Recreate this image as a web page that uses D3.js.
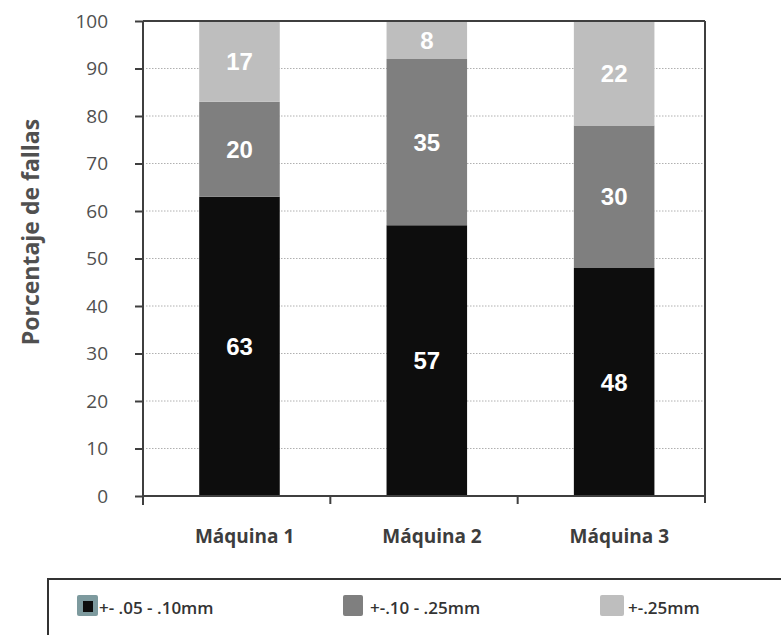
<!DOCTYPE html>
<html>
<head>
<meta charset="utf-8">
<script src="https://cdn.jsdelivr.net/npm/d3@7"></script>
<style>
  html, body { margin: 0; padding: 0; background: #ffffff; }
  svg { display: block; }
</style>
</head>
<body>
<svg id="chart" width="781" height="635"></svg>
<script>
// Machines on the x axis
const machines = ["Máquina 1", "Máquina 2", "Máquina 3"];
// Failure share (%) per tolerance band, one value per machine
const tolSmall = [63, 57, 48];   // +- .05 - .10mm
const tolMedium = [20, 35, 30];  // +-.10 - .25mm
const tolLarge = [17, 8, 22];    // +-.25mm
const seriesNames = ["+- .05 - .10mm", "+-.10 - .25mm", "+-.25mm"];
const seriesColors = ["#0d0d0d", "#7f7f7f", "#bebebe"];
const yTicks = [0, 10, 20, 30, 40, 50, 60, 70, 80, 90, 100];
const yTitle = "Porcentaje de fallas";

const svg = d3.select("#chart");
const plotLeft = 143, plotRight = 705, plotTop = 21, plotBottom = 496;
const frameColor = "#3f3f3f";
const axisFont = "'Open Sans', 'DejaVu Sans', sans-serif";

const x = d3.scaleBand().domain(machines).range([plotLeft, plotRight]).padding(0);
const y = d3.scaleLinear().domain([0, 100]).range([plotBottom, plotTop]);
const barFrac = 0.43, barOffset = 0.30;

// Dotted grid lines
svg.append("g")
  .selectAll("line")
  .data(yTicks.filter(t => t > 0 && t < 100))
  .join("line")
  .attr("x1", plotLeft + 3).attr("x2", plotRight - 2)
  .attr("y1", d => y(d)).attr("y2", d => y(d))
  .attr("stroke", "#b0b0b0")
  .attr("stroke-width", 1)
  .attr("stroke-dasharray", "1.5,1.5");

// Stacked data
const rows = machines.map((m, i) => ({ machine: m, s0: tolSmall[i], s1: tolMedium[i], s2: tolLarge[i] }));
const stacked = d3.stack().keys(["s0", "s1", "s2"])(rows);

const layers = svg.append("g")
  .selectAll("g")
  .data(stacked)
  .join("g")
  .attr("fill", (d, i) => seriesColors[i]);

layers.selectAll("rect")
  .data(d => d)
  .join("rect")
  .attr("x", d => x(d.data.machine) + x.bandwidth() * barOffset)
  .attr("width", x.bandwidth() * barFrac)
  .attr("y", d => y(d[1]))
  .attr("height", d => y(d[0]) - y(d[1]));

// Value labels inside segments
layers.selectAll("text")
  .data(d => d.map(p => ({ p, key: d.key })))
  .join("text")
  .attr("x", d => x(d.p.data.machine) + x.bandwidth() * (barOffset + barFrac / 2))
  .attr("y", d => (y(d.p[0]) + y(d.p[1])) / 2)
  .attr("dy", "0.36em")
  .attr("text-anchor", "middle")
  .attr("fill", "#ffffff")
  .attr("font-family", "Arial, 'Liberation Sans', sans-serif")
  .attr("font-weight", "bold")
  .attr("font-size", 24)
  .text(d => d.p.data[d.key]);

// Y axis
const yAxis = svg.append("g")
  .attr("transform", `translate(${plotLeft},0)`)
  .call(d3.axisLeft(y).tickValues(yTicks).tickSize(8).tickPadding(27));
yAxis.select(".domain").remove();
yAxis.selectAll(".tick line").attr("stroke", frameColor).attr("stroke-width", 2);
yAxis.selectAll(".tick text")
  .attr("font-family", axisFont)
  .attr("font-size", 19)
  .attr("fill", "#505050");

// Plot frame
const frame = svg.append("g").attr("stroke", frameColor).attr("stroke-width", 2).attr("fill", "none");
frame.append("line").attr("x1", plotLeft).attr("x2", plotLeft).attr("y1", plotTop).attr("y2", plotBottom + 9);
frame.append("line").attr("x1", plotLeft).attr("x2", plotRight).attr("y1", plotTop).attr("y2", plotTop);
frame.append("line").attr("x1", plotRight).attr("x2", plotRight).attr("y1", plotTop).attr("y2", plotBottom + 7);
frame.append("line").attr("x1", plotLeft).attr("x2", plotRight).attr("y1", plotBottom).attr("y2", plotBottom);
frame.selectAll(".sep")
  .data(machines.slice(1))
  .join("line")
  .attr("x1", d => x(d)).attr("x2", d => x(d))
  .attr("y1", plotBottom).attr("y2", plotBottom + 8);

// Category labels
svg.append("g")
  .selectAll("text")
  .data(machines)
  .join("text")
  .attr("x", d => x(d) + x.bandwidth() / 2 + 8)
  .attr("y", 543)
  .attr("text-anchor", "middle")
  .attr("font-family", axisFont)
  .attr("font-weight", "bold")
  .attr("font-size", 19)
  .attr("fill", "#3d3d3d")
  .text(d => d);

// Y axis title
svg.append("text")
  .attr("transform", "translate(39,232) rotate(-90)")
  .attr("text-anchor", "middle")
  .attr("font-family", axisFont)
  .attr("font-weight", "bold")
  .attr("font-size", 23)
  .attr("fill", "#505050")
  .text(yTitle);

// Legend
const legend = svg.append("g");
legend.append("path")
  .attr("d", "M48,640 L48,579 L790,579")
  .attr("fill", "none")
  .attr("stroke", "#333333")
  .attr("stroke-width", 2);

const legendItems = [
  { sx: 77, sw: 21, tx: 99 },
  { sx: 343, sw: 20, tx: 370 },
  { sx: 600, sw: 24, tx: 628 }
];
const items = legend.selectAll("g.item")
  .data(seriesNames.map((n, i) => ({ name: n, color: seriesColors[i], ...legendItems[i], i })))
  .join("g")
  .attr("class", "item");

items.append("rect")
  .attr("x", d => d.sx)
  .attr("y", 595)
  .attr("width", d => d.sw)
  .attr("height", 21)
  .attr("rx", 2)
  .attr("fill", d => d.i === 0 ? "#7d9a9e" : d.color);

items.filter(d => d.i === 0)
  .append("rect")
  .attr("x", d => d.sx + 6)
  .attr("y", 601)
  .attr("width", 10)
  .attr("height", 11)
  .attr("fill", d => d.color);

items.append("text")
  .attr("x", d => d.tx)
  .attr("y", 614)
  .attr("font-family", axisFont)
  .attr("font-weight", 600)
  .attr("font-size", 17)
  .attr("fill", "#333333")
  .text(d => d.name);
</script>
</body>
</html>
